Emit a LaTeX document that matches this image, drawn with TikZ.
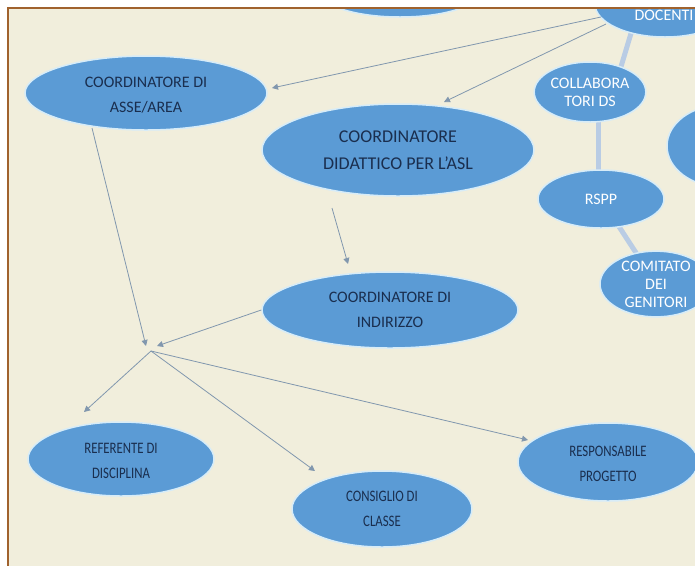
\documentclass[tikz,border=0pt]{standalone}
\usepackage{fontspec}
\setmainfont{Carlito}
\newfontfamily\condfont[FakeStretch=0.8]{Carlito}
\usetikzlibrary{arrows.meta,shapes.geometric}
\definecolor{bgc}{HTML}{F1EEDC}
\definecolor{ellc}{HTML}{5B9BD5}
\definecolor{rimc}{HTML}{D7ECF8}
\definecolor{txtc}{HTML}{1A2E4E}
\definecolor{arrc}{HTML}{8197AE}
\definecolor{linkc}{HTML}{B9CCE4}
\definecolor{framec}{HTML}{A0622D}
\tikzset{
  bub/.style={ellipse, fill=ellc, draw=rimc, line width=1.5pt, align=center,
    font=\fontsize{16}{25}\selectfont, text=txtc, inner sep=0pt},
  bubc/.style={bub, font=\condfont\fontsize{16}{25}\selectfont},
  bubw/.style={bub, text=white, font=\fontsize{16}{18}\selectfont},
  arr/.style={draw=arrc, line width=0.8pt, -{Triangle[length=6pt,width=6pt]}},
  link/.style={draw=linkc, line width=5pt},
}
\begin{document}
\begin{tikzpicture}[x=1pt,y=-1pt]
\useasboundingbox (0,0) rectangle (695,566);
\fill[white] (0,0) rectangle (695,566);
\fill[bgc] (8,8) rectangle (695,566);
\begin{scope}
\clip (8,8) rectangle (695,566);
% pale links between right-hand bubbles
\coordinate (l1a) at (632,30);
\coordinate (l1b) at (620,70);
\coordinate (l2a) at (598,115);
\coordinate (l2b) at (598,178);
\coordinate (l3a) at (616,222);
\coordinate (l3b) at (642,262);
\draw[link] (l1a) -- (l1b);
\draw[link] (l2a) -- (l2b);
\draw[link] (l3a) -- (l3b);

\node[bub, minimum width=160, minimum height=50] (top) at (400,-8) {};
\node[bubw, minimum width=104, minimum height=60] (collab) at (590,92) {COLLABORA\\TORI DS};
\node[bubw, minimum width=126, minimum height=58] (rspp) at (601,199) {RSPP};
\node[bubw, minimum width=112, minimum height=62] (comit) at (656,284) {COMITATO\\DEI\\GENITORI};
\node[bubw, minimum width=140, minimum height=66] (docenti) at (665,4) {};
\node[text=white, font=\fontsize{16}{18}\selectfont, inner sep=0pt] (doctxt) at (664,15) {DOCENTI};
\node[bub, minimum width=110, minimum height=82] (right) at (722,146) {};

\node[bub, minimum width=242, minimum height=74] (asse) at (146,93) {\rule{0pt}{14pt}COORDINATORE DI\\ASSE/AREA};
\node[bub, minimum width=272, minimum height=92, font=\fontsize{18}{27}\selectfont] (asl) at (398,150) {COORDINATORE\\DIDATTICO PER L’ASL};
\node[bub, minimum width=256, minimum height=76] (indir) at (390,310) {COORDINATORE DI\\INDIRIZZO};
\node[bubc, minimum width=186, minimum height=74] (refer) at (121,459) {\rule{0pt}{14pt}REFERENTE DI\\DISCIPLINA};
\node[bubc, minimum width=180, minimum height=76] (consi) at (382,509) {CONSIGLIO DI\\CLASSE};
\node[bubc, minimum width=180, minimum height=78] (resp) at (608,462) {\rule{0pt}{14pt}RESPONSABILE\\PROGETTO};

\coordinate (hub) at (151,351);
\coordinate (d1) at (601,17);
\coordinate (d2) at (606,24);
\coordinate (aslb) at (332,208);
\coordinate (assb) at (92,128);
\coordinate (t1) at (272,88);
\coordinate (t2) at (444,102);
\coordinate (t3) at (348,264);
\coordinate (t4) at (146,346);
\coordinate (t5) at (157,346);
\coordinate (t6) at (84,412);
\coordinate (t7) at (315,471);
\coordinate (t8) at (528,440);
\draw[arr] (d1) -- (t1);
\draw[arr] (d2) -- (t2);
\draw[arr] (aslb) -- (t3);
\draw[arr] (assb) -- (t4);
\draw[arr] (indir.west) -- (t5);
\draw[arr] (hub) -- (t6);
\draw[arr] (hub) -- (t7);
\draw[arr] (hub) -- (t8);
\end{scope}
\draw[framec, line width=2pt] (695,8) -- (8,8) -- (8,566);
\end{tikzpicture}
\end{document}
